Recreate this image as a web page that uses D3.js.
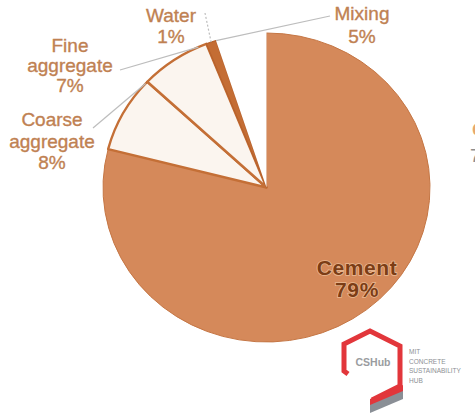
<!DOCTYPE html>
<html>
<head>
<meta charset="utf-8">
<script src="https://cdn.jsdelivr.net/npm/d3@7"></script>
<style>
  body { margin: 0; background: #ffffff; }
  svg { display: block; }
</style>
</head>
<body>
<svg id="chart" width="475" height="416"></svg>
<script>
// Share of embodied CO2 in a cubic metre of concrete, by component
const categories = ["Cement", "Coarse aggregate", "Fine aggregate", "Water", "Mixing"];
const shares = [79, 8, 7, 1, 5];
const labelLines = [
  ["Cement", "79%"],
  ["Coarse", "aggregate", "8%"],
  ["Fine", "aggregate", "7%"],
  ["Water", "1%"],
  ["Mixing", "5%"]
];

// Styling per slice (kept apart from the values)
const sliceFill   = ["#d5895a", "#fbf5ef", "#fbf5ef", "#c46d34", "#ffffff"];
const sliceStroke = ["#c57644", "#c46f36", "#c46f36", "#b8622c", "none"];
const sliceStrokeW = [1, 2.4, 2.4, 1.2, 0];

// Label placement: centre x, first baseline, line height, and where on the
// rim the leader line lands (fraction of the slice, or null for no leader)
const labelLayout = [
  { x: 357, y: 275, lh: 22, size: 21, bold: true,  rim: null },
  { x: 52,  y: 126, lh: 21.5, size: 19, bold: false, rim: 0.97, from: [93, 128] },
  { x: 70,  y: 52,  lh: 20, size: 19, bold: false, rim: 0.88, from: [120, 70] },
  { x: 171, y: 22,  lh: 21, size: 19, bold: false, rim: 0.5, from: [205, 13], dotted: true },
  { x: 362, y: 20,  lh: 23, size: 19, bold: false, rim: 0.0, from: [330, 16] }
];

const svg = d3.select("#chart");
const cx = 266.5, cy = 187.5, ry = 154.5, rx = 163.5;
const sx = rx / ry;

const pie = d3.pie().sort(null).value(d => d)(shares);
const arc = d3.arc().innerRadius(0).outerRadius(ry);

const g = svg.append("g")
  .attr("transform", `translate(${cx},${cy}) scale(${sx},1)`);

g.selectAll("path.slice")
  .data(pie)
  .join("path")
  .attr("class", "slice")
  .attr("d", arc)
  .attr("fill", (d, i) => sliceFill[i])
  .attr("stroke", (d, i) => sliceStroke[i])
  .attr("stroke-width", (d, i) => sliceStrokeW[i])
  .attr("stroke-linejoin", "round")
  .attr("vector-effect", "non-scaling-stroke");

// point on the (slightly stretched) rim at a given angle
function rimPoint(a) {
  return [cx + rx * Math.sin(a), cy - ry * Math.cos(a)];
}

// leader lines
const line = d3.line();
labelLayout.forEach((L, i) => {
  if (L.rim === null) return;
  const s = pie[i];
  const a = s.startAngle + (s.endAngle - s.startAngle) * L.rim;
  const p = rimPoint(a);
  svg.append("path")
    .attr("d", line([L.from, p]))
    .attr("fill", "none")
    .attr("stroke", "#bdbdbd")
    .attr("stroke-width", 1.2)
    .attr("stroke-dasharray", L.dotted ? "2,2" : null);
});

// labels
labelLayout.forEach((L, i) => {
  const t = svg.append("text")
    .attr("text-anchor", "middle")
    .attr("font-family", "'Liberation Sans', Arial, sans-serif")
    .attr("font-size", L.size)
    .attr("font-weight", L.bold ? "bold" : "normal");
  if (L.bold) {
    t.attr("fill", "#7c3d15")
     .attr("stroke", "#eab993")
     .attr("stroke-width", 1.6)
     .attr("paint-order", "stroke")
     .attr("letter-spacing", 0.6);
  } else {
    t.attr("fill", "#bf8152")
     .attr("stroke", "#bf8152")
     .attr("stroke-width", 0.35);
  }
  labelLines[i].forEach((txt, k) => {
    t.append("tspan").attr("x", L.x).attr("y", L.y + k * L.lh).text(txt);
  });
});

// fragments of the neighbouring panel at the right edge
svg.append("text").attr("x", 472).attr("y", 136)
  .attr("font-family", "'Liberation Sans', Arial, sans-serif")
  .attr("font-size", 19).attr("font-weight", "bold").attr("fill", "#e6a76e").text("C");
svg.append("text").attr("x", 470).attr("y", 162)
  .attr("font-family", "'Liberation Sans', Arial, sans-serif")
  .attr("font-size", 19).attr("fill", "#8e8e8e").text("7");

// CSHub logo
const logo = svg.append("g");
logo.append("path")
  .attr("d", "M348,374 L344,371 L344,344 L370,331 L400,346 L400,386 L372,400")
  .attr("fill", "none").attr("stroke", "#e2363b").attr("stroke-width", 5)
  .attr("stroke-linejoin", "miter");
logo.append("path")
  .attr("d", "M370,399 L403,385 L403,398 L370,412 Z")
  .attr("fill", "#e2363b");
logo.append("path")
  .attr("d", "M370,405 L403,391 L403,399 L370,413 Z")
  .attr("fill", "#8a8f96");
logo.append("text").attr("x", 373).attr("y", 366).attr("text-anchor", "middle")
  .attr("font-family", "'Liberation Sans', Arial, sans-serif")
  .attr("font-size", 10.5).attr("font-weight", "bold").attr("fill", "#9a9ca0").text("CSHub");
["MIT", "CONCRETE", "SUSTAINABILITY", "HUB"].forEach((w, k) => {
  logo.append("text").attr("x", 409).attr("y", 354 + k * 9.5)
    .attr("font-family", "'Liberation Sans', Arial, sans-serif")
    .attr("font-size", 6.5).attr("fill", "#8d8f94").text(w);
});
</script>
</body>
</html>
